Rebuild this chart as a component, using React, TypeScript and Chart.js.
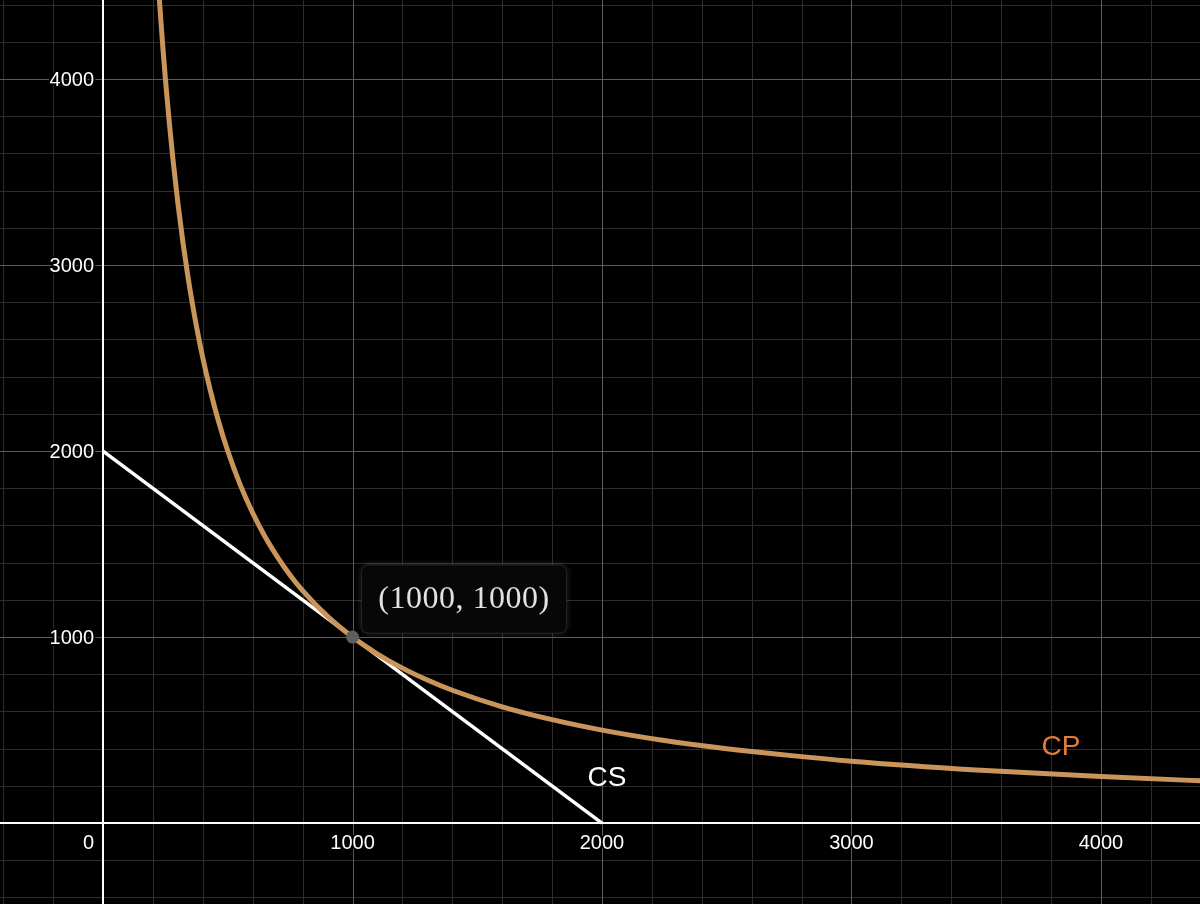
import React, { useEffect, useRef } from "react";
import { Chart, registerables } from "chart.js";

Chart.register(...registerables);

// Curve CP
const cpX = [220, 225, 230, 240, 250, 265, 280, 300, 320, 340, 360, 380, 400, 430, 460, 500, 550, 600, 650, 700, 750, 800, 900, 1000, 1100, 1200, 1300, 1400, 1600, 1800, 2000, 2250, 2500, 2750, 3000, 3500, 4000, 4500];
const cpY = [4545, 4444, 4348, 4167, 4000, 3774, 3571, 3333, 3125, 2941, 2778, 2632, 2500, 2326, 2174, 2000, 1818, 1667, 1538, 1429, 1333, 1250, 1111, 1000, 909, 833, 769, 714, 625, 556, 500, 444, 400, 364, 333, 286, 250, 222];

// Line CS
const csX = [0, 2000];
const csY = [2000, 0];

// Highlighted point
const ptX = [1000];
const ptY = [1000];
const ptLabel = "(1000, 1000)";

// Axis tick labels
const xTicks = [0, 1000, 2000, 3000, 4000];
const yTicks = [1000, 2000, 3000, 4000];

// Curve name labels (data coordinates)
const nameLabels = [
  { text: "CP", x: 3840, y: 409, color: "#e47c3c" },
  { text: "CS", x: 2020, y: 242, color: "#ffffff" },
];

const X_MIN = -413;
const X_MAX = 4397;
const Y_MIN = -435;
const Y_MAX = 4425;
const MINOR = 200;

const gridPlugin = {
  id: "desmosGrid",
  beforeDatasetsDraw(chart: any) {
    const { ctx, chartArea, scales } = chart;
    const xs = scales.x;
    const ys = scales.y;
    ctx.save();
    ctx.fillStyle = "#000";
    ctx.fillRect(0, 0, chart.width, chart.height);
    const drawV = (v: number, color: string, w: number) => {
      const p = Math.round(xs.getPixelForValue(v)) + (w % 2 ? 0.5 : 0);
      ctx.strokeStyle = color;
      ctx.lineWidth = w;
      ctx.beginPath();
      ctx.moveTo(p, chartArea.top);
      ctx.lineTo(p, chartArea.bottom);
      ctx.stroke();
    };
    const drawH = (v: number, color: string, w: number) => {
      const p = Math.round(ys.getPixelForValue(v)) + (w % 2 ? 0.5 : 0);
      ctx.strokeStyle = color;
      ctx.lineWidth = w;
      ctx.beginPath();
      ctx.moveTo(chartArea.left, p);
      ctx.lineTo(chartArea.right, p);
      ctx.stroke();
    };
    // minor
    for (let v = Math.ceil(X_MIN / MINOR) * MINOR; v <= X_MAX; v += MINOR) {
      if (v % 1000 !== 0) drawV(v, "#2c2c2c", 1);
    }
    for (let v = Math.ceil(Y_MIN / MINOR) * MINOR; v <= Y_MAX; v += MINOR) {
      if (v % 1000 !== 0) drawH(v, "#2c2c2c", 1);
    }
    // major
    for (let v = Math.ceil(X_MIN / 1000) * 1000; v <= X_MAX; v += 1000) {
      if (v !== 0) drawV(v, "#5c5c5c", 1);
    }
    for (let v = Math.ceil(Y_MIN / 1000) * 1000; v <= Y_MAX; v += 1000) {
      if (v !== 0) drawH(v, "#5c5c5c", 1);
    }
    // axes
    drawV(0, "#ffffff", 2);
    drawH(0, "#ffffff", 2);

    // tick labels
    ctx.font = '20px "Liberation Sans", Arial, sans-serif';
    ctx.lineJoin = "round";
    const x0 = xs.getPixelForValue(0);
    const y0 = ys.getPixelForValue(0);
    const label = (t: string, x: number, y: number, align: CanvasTextAlign) => {
      ctx.textAlign = align;
      ctx.textBaseline = "middle";
      ctx.strokeStyle = "#000";
      ctx.lineWidth = 4;
      ctx.strokeText(t, x, y);
      ctx.fillStyle = "#ffffff";
      ctx.fillText(t, x, y);
    };
    xTicks.forEach((v) => {
      if (v === 0) label("0", x0 - 9, y0 + 20, "right");
      else label(String(v), xs.getPixelForValue(v), y0 + 20, "center");
    });
    yTicks.forEach((v) => {
      label(String(v), x0 - 9, ys.getPixelForValue(v) + 1, "right");
    });
    ctx.restore();
  },
  afterDatasetsDraw(chart: any) {
    const { ctx, scales } = chart;
    const xs = scales.x;
    const ys = scales.y;
    ctx.save();
    // curve names
    ctx.font = '28px "Liberation Sans", Arial, sans-serif';
    ctx.textAlign = "center";
    ctx.textBaseline = "middle";
    nameLabels.forEach((l) => {
      ctx.fillStyle = l.color;
      ctx.fillText(l.text, xs.getPixelForValue(l.x), ys.getPixelForValue(l.y));
    });
    // point label box
    const px = xs.getPixelForValue(ptX[0]);
    const py = ys.getPixelForValue(ptY[0]);
    const bx = px + 9;
    const by = py - 72;
    const bw = 205;
    const bh = 68;
    ctx.shadowColor = "rgba(255,255,255,0.2)";
    ctx.shadowBlur = 6;
    ctx.fillStyle = "#070707";
    ctx.beginPath();
    ctx.roundRect(bx, by, bw, bh, 7);
    ctx.fill();
    ctx.shadowBlur = 0;
    ctx.shadowColor = "transparent";
    ctx.strokeStyle = "#222";
    ctx.lineWidth = 1;
    ctx.stroke();
    ctx.font = '32px "Liberation Serif", "Times New Roman", serif';
    (ctx as any).letterSpacing = "0.5px";
    ctx.fillStyle = "#e2e2e2";
    ctx.textAlign = "center";
    ctx.textBaseline = "middle";
    ctx.fillText(ptLabel, bx + bw / 2, by + bh / 2 + 1);
    ctx.restore();
  },
};

export default function App() {
  const ref = useRef<HTMLCanvasElement>(null);
  useEffect(() => {
    document.body.style.margin = "0";
    document.body.style.background = "#000";
    const canvas = ref.current;
    if (!canvas) return;
    const chart = new Chart(canvas, {
      type: "scatter",
      data: {
        datasets: [
          {
            label: "point",
            data: ptX.map((x, i) => ({ x, y: ptY[i] })),
            pointRadius: 6.5,
            pointBackgroundColor: "#5e5e5e",
            pointBorderColor: "#5e5e5e",
            pointBorderWidth: 0,
            showLine: false,
          },
          {
            label: "CP",
            data: cpX.map((x, i) => ({ x, y: cpY[i] })),
            showLine: true,
            borderColor: "#c9955b",
            borderWidth: 5,
            pointRadius: 0,
            cubicInterpolationMode: "monotone",
            borderCapStyle: "round",
          },
          {
            label: "CS",
            data: csX.map((x, i) => ({ x, y: csY[i] })),
            showLine: true,
            borderColor: "#ffffff",
            borderWidth: 3.5,
            pointRadius: 0,
          },
        ],
      },
      options: {
        responsive: false,
        animation: false,
        layout: { padding: 0, autoPadding: false },
        plugins: { legend: { display: false }, tooltip: { enabled: false } },
        events: [],
        scales: {
          x: { type: "linear", min: X_MIN, max: X_MAX, display: false },
          y: { type: "linear", min: Y_MIN, max: Y_MAX, display: false },
        },
      },
      plugins: [gridPlugin],
    } as any);
    return () => chart.destroy();
  }, []);
  return (
    <div style={{ width: 1200, height: 904, background: "#000" }}>
      <canvas ref={ref} width={1200} height={904} style={{ display: "block" }} />
    </div>
  );
}
